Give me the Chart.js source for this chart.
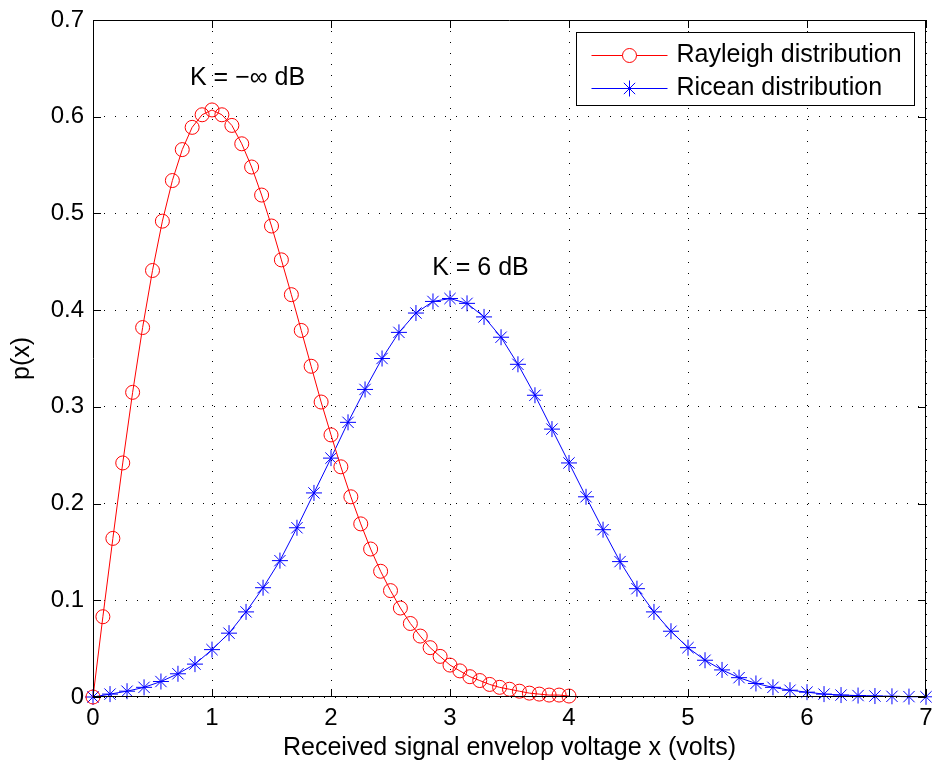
<!DOCTYPE html>
<html>
<head>
<meta charset="utf-8">
<script src="https://cdn.jsdelivr.net/npm/chart.js@4/dist/chart.umd.min.js"></script>
<style>
  html, body { margin: 0; padding: 0; background: #fff; }
  #wrap { width: 932px; height: 765px; }
</style>
</head>
<body>
<div id="wrap"><canvas id="c" width="932" height="765"></canvas></div>
<script>
// ---- data ----
const rayleighX = [0, 0.083, 0.167, 0.25, 0.333, 0.417, 0.5, 0.583, 0.667, 0.75, 0.833, 0.917, 1,
  1.083, 1.167, 1.25, 1.333, 1.417, 1.5, 1.583, 1.667, 1.75, 1.833, 1.917, 2,
  2.083, 2.167, 2.25, 2.333, 2.417, 2.5, 2.583, 2.667, 2.75, 2.833, 2.917, 3,
  3.083, 3.167, 3.25, 3.333, 3.417, 3.5, 3.583, 3.667, 3.75, 3.833, 3.917, 4];
const rayleighY = [0, 0.083, 0.164, 0.242, 0.315, 0.382, 0.441, 0.492, 0.534, 0.566, 0.589, 0.602, 0.607,
  0.602, 0.591, 0.572, 0.548, 0.519, 0.487, 0.452, 0.416, 0.379, 0.342, 0.305, 0.271,
  0.238, 0.207, 0.179, 0.153, 0.130, 0.110, 0.092, 0.076, 0.063, 0.051, 0.042, 0.033,
  0.027, 0.021, 0.017, 0.013, 0.010, 0.008, 0.006, 0.004, 0.003, 0.002, 0.002, 0.001];
const riceanX = [0, 0.143, 0.286, 0.429, 0.571, 0.714, 0.857, 1, 1.143, 1.286, 1.429, 1.571, 1.714, 1.857,
  2, 2.143, 2.286, 2.429, 2.571, 2.714, 2.857, 3, 3.143, 3.286, 3.429, 3.571, 3.714, 3.857,
  4, 4.143, 4.286, 4.429, 4.571, 4.714, 4.857, 5, 5.143, 5.286, 5.429, 5.571, 5.714, 5.857,
  6, 6.143, 6.286, 6.429, 6.571, 6.714, 6.857, 7];
const riceanY = [0, 0.003, 0.006, 0.010, 0.016, 0.024, 0.034, 0.049, 0.066, 0.088, 0.113, 0.141, 0.175, 0.211,
  0.247, 0.284, 0.318, 0.350, 0.377, 0.397, 0.409, 0.412, 0.407, 0.393, 0.372, 0.344, 0.312, 0.277,
  0.242, 0.207, 0.173, 0.140, 0.112, 0.088, 0.068, 0.051, 0.038, 0.028, 0.020, 0.014, 0.010, 0.007,
  0.005, 0.003, 0.002, 0.0015, 0.001, 0.0007, 0.0004, 0.0002];
const xTicks = [0, 1, 2, 3, 4, 5, 6, 7];
const yTicks = [0, 0.1, 0.2, 0.3, 0.4, 0.5, 0.6, 0.7];
const seriesNames = ['Rayleigh distribution', 'Ricean distribution'];
const annotations = [
  { text: 'K = \u2212\u221e dB', x: 0.815, y: 0.640 },
  { text: 'K = 6 dB', x: 2.85, y: 0.4437 }
];
const xTitle = 'Received signal envelop voltage x (volts)';
const yTitle = 'p(x)';

// ---- styling ----
const FONT = '"Liberation Sans", Arial, Helvetica, sans-serif';
const RED = '#ff0000';
const BLUE = '#0000ff';

function toPoints(xs, ys) { return xs.map((x, i) => ({ x: x, y: ys[i] })); }

const framePlugin = {
  id: 'frame',
  afterDatasetsDraw(chart) {
    const { ctx, chartArea: a, scales } = chart;
    ctx.save();
    ctx.strokeStyle = '#000';
    ctx.lineWidth = 1;
    ctx.beginPath();
    ctx.rect(Math.round(a.left) + 0.5, Math.round(a.top) + 0.5,
      Math.round(a.right - a.left) - 1, Math.round(a.bottom - a.top) - 1);
    ctx.stroke();
    const tl = 8;
    ctx.beginPath();
    xTicks.forEach(v => {
      const px = Math.round(scales.x.getPixelForValue(v)) + 0.5;
      ctx.moveTo(px, a.bottom); ctx.lineTo(px, a.bottom - tl);
      ctx.moveTo(px, a.top); ctx.lineTo(px, a.top + tl);
    });
    yTicks.forEach(v => {
      const py = Math.round(scales.y.getPixelForValue(v)) + 0.5;
      ctx.moveTo(a.left, py); ctx.lineTo(a.left + tl, py);
      ctx.moveTo(a.right, py); ctx.lineTo(a.right - tl, py);
    });
    ctx.stroke();
    // annotations
    ctx.fillStyle = '#000';
    ctx.font = '25px ' + FONT;
    ctx.textAlign = 'left';
    ctx.textBaseline = 'middle';
    annotations.forEach(an => {
      ctx.fillText(an.text, scales.x.getPixelForValue(an.x), scales.y.getPixelForValue(an.y));
    });
    ctx.restore();
  },
  afterDraw(chart) {
    const { ctx } = chart;
    const a = chart.chartArea;
    // legend box in the upper right corner of the axes
    const bx = Math.round(a.right) - 349.5, by = Math.round(a.top) + 12.5, bw = 338, bh = 73;
    ctx.save();
    ctx.fillStyle = '#fff';
    ctx.fillRect(bx, by, bw, bh);
    ctx.strokeStyle = '#000';
    ctx.lineWidth = 1;
    ctx.strokeRect(bx, by, bw, bh);
    const rows = [
      { name: seriesNames[0], color: RED, style: 'circle', y: by + 22 },
      { name: seriesNames[1], color: BLUE, style: 'star', y: by + 55 }
    ];
    rows.forEach(r => {
      ctx.strokeStyle = r.color;
      ctx.lineWidth = 1;
      ctx.beginPath();
      ctx.moveTo(bx + 15, Math.round(r.y) + 0.5);
      ctx.lineTo(bx + 91, Math.round(r.y) + 0.5);
      ctx.stroke();
      Chart.helpers.drawPoint(ctx, { pointStyle: r.style, radius: r.style === 'circle' ? 7 : 8, borderWidth: 1 },
        bx + 53, Math.round(r.y) + 0.5);
      ctx.fillStyle = '#000';
      ctx.font = '25px ' + FONT;
      ctx.textAlign = 'left';
      ctx.textBaseline = 'middle';
      ctx.fillText(r.name, bx + 100, r.y + 1);
    });
    ctx.restore();
  }
};

new Chart(document.getElementById('c'), {
  type: 'scatter',
  data: {
    datasets: [
      {
        label: seriesNames[0],
        data: toPoints(rayleighX, rayleighY),
        showLine: true,
        borderColor: RED,
        borderWidth: 1,
        backgroundColor: 'rgba(0,0,0,0)',
        pointStyle: 'circle',
        pointRadius: 7,
        pointBorderColor: RED,
        pointBorderWidth: 1,
        pointBackgroundColor: 'rgba(0,0,0,0)',
        tension: 0,
        clip: false
      },
      {
        label: seriesNames[1],
        data: toPoints(riceanX, riceanY),
        showLine: true,
        borderColor: BLUE,
        borderWidth: 1,
        backgroundColor: 'rgba(0,0,0,0)',
        pointStyle: 'star',
        pointRadius: 8,
        pointBorderColor: BLUE,
        pointBorderWidth: 1,
        pointBackgroundColor: 'rgba(0,0,0,0)',
        tension: 0,
        clip: false
      }
    ]
  },
  options: {
    responsive: false,
    animation: false,
    events: [],
    layout: { autoPadding: false, padding: { top: 20, right: 6, left: 0, bottom: 0 } },
    plugins: { legend: { display: false }, tooltip: { enabled: false } },
    scales: {
      x: {
        type: 'linear', min: 0, max: 7,
        afterBuildTicks: s => { s.ticks = xTicks.map(v => ({ value: v })); },
        afterFit: s => { s.height = 68; s.paddingLeft = 0; s.paddingRight = 0; },
        ticks: { color: '#000', font: { family: FONT, size: 24, lineHeight: 1.2 }, padding: 7, maxRotation: 0, autoSkip: false },
        grid: { color: '#000', lineWidth: 1, drawTicks: false },
        border: { display: false, dash: [1, 10] },
        title: { display: true, text: xTitle, color: '#000', font: { family: FONT, size: 25, lineHeight: 1.2 }, padding: { top: 0, bottom: 2 } }
      },
      y: {
        type: 'linear', min: 0, max: 0.7,
        afterBuildTicks: s => { s.ticks = yTicks.map(v => ({ value: v })); },
        afterFit: s => { s.width = 93; s.paddingTop = 0; s.paddingBottom = 0; },
        ticks: { color: '#000', font: { family: FONT, size: 24, lineHeight: 1.2 }, padding: 9,
          callback: v => String(Math.round(v * 10) / 10) },
        grid: { color: '#000', lineWidth: 1, drawTicks: false },
        border: { display: false, dash: [1, 10] },
        title: { display: true, text: yTitle, color: '#000', font: { family: FONT, size: 25, lineHeight: 1.2 }, padding: { top: 7, bottom: 0 } }
      }
    }
  },
  plugins: [framePlugin]
});
</script>
</body>
</html>
